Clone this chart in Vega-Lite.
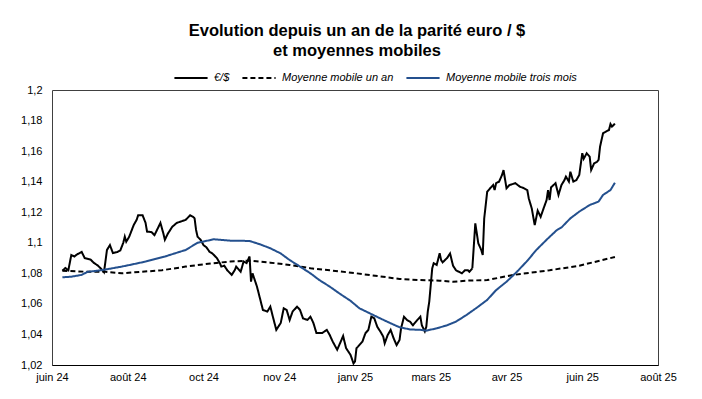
{
  "$schema": "https://vega.github.io/schema/vega-lite/v6.json",
  "width": 606,
  "height": 275,
  "autosize": {"type": "none"},
  "padding": {"left": 52, "top": 90, "right": 44, "bottom": 34},
  "background": "white",
  "config": {"view": {"stroke": "#404040", "strokeWidth": 1}},
  "title": {
    "text": ["Evolution depuis un an de la parité euro / $", "et moyennes mobiles"],
    "font": "Liberation Sans",
    "fontSize": 16.5,
    "fontWeight": "bold",
    "color": "black",
    "anchor": "middle",
    "lineHeight": 20,
    "offset": 1,
    "dx": 2
  },
  "data": {"values": [
    {"date": "2024-07-01", "serie": "€/$", "value": 1.0817},
    {"date": "2024-07-03", "serie": "€/$", "value": 1.0835},
    {"date": "2024-07-05", "serie": "€/$", "value": 1.082},
    {"date": "2024-07-07", "serie": "€/$", "value": 1.092},
    {"date": "2024-07-09", "serie": "€/$", "value": 1.091},
    {"date": "2024-07-11", "serie": "€/$", "value": 1.0925},
    {"date": "2024-07-14", "serie": "€/$", "value": 1.094},
    {"date": "2024-07-16", "serie": "€/$", "value": 1.09},
    {"date": "2024-07-20", "serie": "€/$", "value": 1.089},
    {"date": "2024-07-22", "serie": "€/$", "value": 1.087},
    {"date": "2024-07-25", "serie": "€/$", "value": 1.085},
    {"date": "2024-07-28", "serie": "€/$", "value": 1.082},
    {"date": "2024-07-29", "serie": "€/$", "value": 1.0807},
    {"date": "2024-07-31", "serie": "€/$", "value": 1.0953},
    {"date": "2024-08-02", "serie": "€/$", "value": 1.0985},
    {"date": "2024-08-04", "serie": "€/$", "value": 1.0933},
    {"date": "2024-08-07", "serie": "€/$", "value": 1.094},
    {"date": "2024-08-09", "serie": "€/$", "value": 1.095},
    {"date": "2024-08-11", "serie": "€/$", "value": 1.1},
    {"date": "2024-08-12", "serie": "€/$", "value": 1.104},
    {"date": "2024-08-13", "serie": "€/$", "value": 1.1007},
    {"date": "2024-08-15", "serie": "€/$", "value": 1.104},
    {"date": "2024-08-18", "serie": "€/$", "value": 1.1116},
    {"date": "2024-08-20", "serie": "€/$", "value": 1.115},
    {"date": "2024-08-21", "serie": "€/$", "value": 1.118},
    {"date": "2024-08-24", "serie": "€/$", "value": 1.118},
    {"date": "2024-08-26", "serie": "€/$", "value": 1.113},
    {"date": "2024-08-27", "serie": "€/$", "value": 1.1073},
    {"date": "2024-08-30", "serie": "€/$", "value": 1.107},
    {"date": "2024-09-01", "serie": "€/$", "value": 1.105},
    {"date": "2024-09-05", "serie": "€/$", "value": 1.113},
    {"date": "2024-09-07", "serie": "€/$", "value": 1.106},
    {"date": "2024-09-08", "serie": "€/$", "value": 1.102},
    {"date": "2024-09-10", "serie": "€/$", "value": 1.106},
    {"date": "2024-09-13", "serie": "€/$", "value": 1.1105},
    {"date": "2024-09-16", "serie": "€/$", "value": 1.113},
    {"date": "2024-09-19", "serie": "€/$", "value": 1.114},
    {"date": "2024-09-22", "serie": "€/$", "value": 1.115},
    {"date": "2024-09-25", "serie": "€/$", "value": 1.118},
    {"date": "2024-09-27", "serie": "€/$", "value": 1.117},
    {"date": "2024-09-28", "serie": "€/$", "value": 1.116},
    {"date": "2024-09-29", "serie": "€/$", "value": 1.1084},
    {"date": "2024-09-30", "serie": "€/$", "value": 1.104},
    {"date": "2024-10-02", "serie": "€/$", "value": 1.102},
    {"date": "2024-10-04", "serie": "€/$", "value": 1.0985},
    {"date": "2024-10-06", "serie": "€/$", "value": 1.097},
    {"date": "2024-10-08", "serie": "€/$", "value": 1.0942},
    {"date": "2024-10-10", "serie": "€/$", "value": 1.093},
    {"date": "2024-10-13", "serie": "€/$", "value": 1.09},
    {"date": "2024-10-15", "serie": "€/$", "value": 1.0867},
    {"date": "2024-10-16", "serie": "€/$", "value": 1.0844},
    {"date": "2024-10-18", "serie": "€/$", "value": 1.085},
    {"date": "2024-10-20", "serie": "€/$", "value": 1.082},
    {"date": "2024-10-23", "serie": "€/$", "value": 1.079},
    {"date": "2024-10-25", "serie": "€/$", "value": 1.082},
    {"date": "2024-10-26", "serie": "€/$", "value": 1.0844},
    {"date": "2024-10-29", "serie": "€/$", "value": 1.081},
    {"date": "2024-10-31", "serie": "€/$", "value": 1.0877},
    {"date": "2024-11-02", "serie": "€/$", "value": 1.0867},
    {"date": "2024-11-04", "serie": "€/$", "value": 1.091},
    {"date": "2024-11-05", "serie": "€/$", "value": 1.0746},
    {"date": "2024-11-06", "serie": "€/$", "value": 1.08},
    {"date": "2024-11-09", "serie": "€/$", "value": 1.0713},
    {"date": "2024-11-11", "serie": "€/$", "value": 1.0637},
    {"date": "2024-11-13", "serie": "€/$", "value": 1.056},
    {"date": "2024-11-16", "serie": "€/$", "value": 1.055},
    {"date": "2024-11-18", "serie": "€/$", "value": 1.0582},
    {"date": "2024-11-20", "serie": "€/$", "value": 1.0505},
    {"date": "2024-11-22", "serie": "€/$", "value": 1.043},
    {"date": "2024-11-25", "serie": "€/$", "value": 1.0475},
    {"date": "2024-11-27", "serie": "€/$", "value": 1.0571},
    {"date": "2024-11-29", "serie": "€/$", "value": 1.056},
    {"date": "2024-12-01", "serie": "€/$", "value": 1.0495},
    {"date": "2024-12-03", "serie": "€/$", "value": 1.055},
    {"date": "2024-12-06", "serie": "€/$", "value": 1.0582},
    {"date": "2024-12-08", "serie": "€/$", "value": 1.056},
    {"date": "2024-12-10", "serie": "€/$", "value": 1.0505},
    {"date": "2024-12-13", "serie": "€/$", "value": 1.0495},
    {"date": "2024-12-15", "serie": "€/$", "value": 1.0516},
    {"date": "2024-12-17", "serie": "€/$", "value": 1.0475},
    {"date": "2024-12-19", "serie": "€/$", "value": 1.041},
    {"date": "2024-12-23", "serie": "€/$", "value": 1.041},
    {"date": "2024-12-26", "serie": "€/$", "value": 1.043},
    {"date": "2024-12-28", "serie": "€/$", "value": 1.0396},
    {"date": "2024-12-30", "serie": "€/$", "value": 1.0353},
    {"date": "2025-01-02", "serie": "€/$", "value": 1.03},
    {"date": "2025-01-04", "serie": "€/$", "value": 1.0344},
    {"date": "2025-01-06", "serie": "€/$", "value": 1.039},
    {"date": "2025-01-08", "serie": "€/$", "value": 1.031},
    {"date": "2025-01-11", "serie": "€/$", "value": 1.0266},
    {"date": "2025-01-13", "serie": "€/$", "value": 1.021},
    {"date": "2025-01-14", "serie": "€/$", "value": 1.0223},
    {"date": "2025-01-15", "serie": "€/$", "value": 1.031},
    {"date": "2025-01-16", "serie": "€/$", "value": 1.032},
    {"date": "2025-01-19", "serie": "€/$", "value": 1.0353},
    {"date": "2025-01-21", "serie": "€/$", "value": 1.0408},
    {"date": "2025-01-23", "serie": "€/$", "value": 1.043},
    {"date": "2025-01-25", "serie": "€/$", "value": 1.0516},
    {"date": "2025-01-27", "serie": "€/$", "value": 1.0505},
    {"date": "2025-01-29", "serie": "€/$", "value": 1.045},
    {"date": "2025-01-31", "serie": "€/$", "value": 1.042},
    {"date": "2025-02-02", "serie": "€/$", "value": 1.0386},
    {"date": "2025-02-03", "serie": "€/$", "value": 1.0342},
    {"date": "2025-02-05", "serie": "€/$", "value": 1.0396},
    {"date": "2025-02-07", "serie": "€/$", "value": 1.043},
    {"date": "2025-02-09", "serie": "€/$", "value": 1.0375},
    {"date": "2025-02-11", "serie": "€/$", "value": 1.033},
    {"date": "2025-02-13", "serie": "€/$", "value": 1.0364},
    {"date": "2025-02-14", "serie": "€/$", "value": 1.044},
    {"date": "2025-02-16", "serie": "€/$", "value": 1.0516},
    {"date": "2025-02-18", "serie": "€/$", "value": 1.0495},
    {"date": "2025-02-20", "serie": "€/$", "value": 1.0484},
    {"date": "2025-02-22", "serie": "€/$", "value": 1.046},
    {"date": "2025-02-25", "serie": "€/$", "value": 1.0495},
    {"date": "2025-02-27", "serie": "€/$", "value": 1.0516},
    {"date": "2025-02-28", "serie": "€/$", "value": 1.046},
    {"date": "2025-03-02", "serie": "€/$", "value": 1.042},
    {"date": "2025-03-03", "serie": "€/$", "value": 1.045},
    {"date": "2025-03-04", "serie": "€/$", "value": 1.055},
    {"date": "2025-03-05", "serie": "€/$", "value": 1.0615},
    {"date": "2025-03-07", "serie": "€/$", "value": 1.0833},
    {"date": "2025-03-08", "serie": "€/$", "value": 1.0866},
    {"date": "2025-03-10", "serie": "€/$", "value": 1.0855},
    {"date": "2025-03-12", "serie": "€/$", "value": 1.0931},
    {"date": "2025-03-13", "serie": "€/$", "value": 1.0887},
    {"date": "2025-03-14", "serie": "€/$", "value": 1.0872},
    {"date": "2025-03-17", "serie": "€/$", "value": 1.09},
    {"date": "2025-03-19", "serie": "€/$", "value": 1.093},
    {"date": "2025-03-21", "serie": "€/$", "value": 1.085},
    {"date": "2025-03-23", "serie": "€/$", "value": 1.082},
    {"date": "2025-03-27", "serie": "€/$", "value": 1.08},
    {"date": "2025-03-29", "serie": "€/$", "value": 1.082},
    {"date": "2025-03-31", "serie": "€/$", "value": 1.082},
    {"date": "2025-04-01", "serie": "€/$", "value": 1.081},
    {"date": "2025-04-03", "serie": "€/$", "value": 1.0833},
    {"date": "2025-04-05", "serie": "€/$", "value": 1.1127},
    {"date": "2025-04-07", "serie": "€/$", "value": 1.0997},
    {"date": "2025-04-09", "serie": "€/$", "value": 1.0953},
    {"date": "2025-04-10", "serie": "€/$", "value": 1.092},
    {"date": "2025-04-11", "serie": "€/$", "value": 1.116},
    {"date": "2025-04-13", "serie": "€/$", "value": 1.1334},
    {"date": "2025-04-15", "serie": "€/$", "value": 1.1357},
    {"date": "2025-04-17", "serie": "€/$", "value": 1.1378},
    {"date": "2025-04-18", "serie": "€/$", "value": 1.1345},
    {"date": "2025-04-19", "serie": "€/$", "value": 1.139},
    {"date": "2025-04-21", "serie": "€/$", "value": 1.14},
    {"date": "2025-04-23", "serie": "€/$", "value": 1.1444},
    {"date": "2025-04-24", "serie": "€/$", "value": 1.1476},
    {"date": "2025-04-26", "serie": "€/$", "value": 1.1357},
    {"date": "2025-04-28", "serie": "€/$", "value": 1.1378},
    {"date": "2025-05-02", "serie": "€/$", "value": 1.139},
    {"date": "2025-05-05", "serie": "€/$", "value": 1.1367},
    {"date": "2025-05-07", "serie": "€/$", "value": 1.136},
    {"date": "2025-05-10", "serie": "€/$", "value": 1.1345},
    {"date": "2025-05-11", "serie": "€/$", "value": 1.129},
    {"date": "2025-05-13", "serie": "€/$", "value": 1.1225},
    {"date": "2025-05-15", "serie": "€/$", "value": 1.1116},
    {"date": "2025-05-17", "serie": "€/$", "value": 1.121},
    {"date": "2025-05-19", "serie": "€/$", "value": 1.117},
    {"date": "2025-05-21", "serie": "€/$", "value": 1.1226},
    {"date": "2025-05-23", "serie": "€/$", "value": 1.128},
    {"date": "2025-05-24", "serie": "€/$", "value": 1.1345},
    {"date": "2025-05-25", "serie": "€/$", "value": 1.128},
    {"date": "2025-05-26", "serie": "€/$", "value": 1.1363},
    {"date": "2025-05-29", "serie": "€/$", "value": 1.139},
    {"date": "2025-05-31", "serie": "€/$", "value": 1.1313},
    {"date": "2025-06-02", "serie": "€/$", "value": 1.1378},
    {"date": "2025-06-04", "serie": "€/$", "value": 1.141},
    {"date": "2025-06-05", "serie": "€/$", "value": 1.1433},
    {"date": "2025-06-07", "serie": "€/$", "value": 1.14},
    {"date": "2025-06-08", "serie": "€/$", "value": 1.1465},
    {"date": "2025-06-10", "serie": "€/$", "value": 1.14},
    {"date": "2025-06-12", "serie": "€/$", "value": 1.141},
    {"date": "2025-06-14", "serie": "€/$", "value": 1.1444},
    {"date": "2025-06-16", "serie": "€/$", "value": 1.1586},
    {"date": "2025-06-17", "serie": "€/$", "value": 1.155},
    {"date": "2025-06-19", "serie": "€/$", "value": 1.1586},
    {"date": "2025-06-21", "serie": "€/$", "value": 1.1564},
    {"date": "2025-06-22", "serie": "€/$", "value": 1.1476},
    {"date": "2025-06-24", "serie": "€/$", "value": 1.152},
    {"date": "2025-06-26", "serie": "€/$", "value": 1.153},
    {"date": "2025-06-27", "serie": "€/$", "value": 1.1542},
    {"date": "2025-06-28", "serie": "€/$", "value": 1.163},
    {"date": "2025-06-30", "serie": "€/$", "value": 1.1717},
    {"date": "2025-07-02", "serie": "€/$", "value": 1.1728},
    {"date": "2025-07-04", "serie": "€/$", "value": 1.1738},
    {"date": "2025-07-05", "serie": "€/$", "value": 1.1777},
    {"date": "2025-07-06", "serie": "€/$", "value": 1.176},
    {"date": "2025-07-08", "serie": "€/$", "value": 1.178},

    {"date": "2024-07-01", "serie": "Moyenne mobile un an", "value": 1.0817},
    {"date": "2024-07-18", "serie": "Moyenne mobile un an", "value": 1.081},
    {"date": "2024-07-30", "serie": "Moyenne mobile un an", "value": 1.081},
    {"date": "2024-08-10", "serie": "Moyenne mobile un an", "value": 1.08},
    {"date": "2024-08-23", "serie": "Moyenne mobile un an", "value": 1.081},
    {"date": "2024-09-06", "serie": "Moyenne mobile un an", "value": 1.082},
    {"date": "2024-09-22", "serie": "Moyenne mobile un an", "value": 1.0844},
    {"date": "2024-10-10", "serie": "Moyenne mobile un an", "value": 1.0866},
    {"date": "2024-10-22", "serie": "Moyenne mobile un an", "value": 1.0877},
    {"date": "2024-11-04", "serie": "Moyenne mobile un an", "value": 1.0883},
    {"date": "2024-11-18", "serie": "Moyenne mobile un an", "value": 1.087},
    {"date": "2024-12-01", "serie": "Moyenne mobile un an", "value": 1.0855},
    {"date": "2024-12-15", "serie": "Moyenne mobile un an", "value": 1.0833},
    {"date": "2024-12-28", "serie": "Moyenne mobile un an", "value": 1.082},
    {"date": "2025-01-15", "serie": "Moyenne mobile un an", "value": 1.08},
    {"date": "2025-01-31", "serie": "Moyenne mobile un an", "value": 1.078},
    {"date": "2025-02-13", "serie": "Moyenne mobile un an", "value": 1.0763},
    {"date": "2025-02-27", "serie": "Moyenne mobile un an", "value": 1.0756},
    {"date": "2025-03-12", "serie": "Moyenne mobile un an", "value": 1.0752},
    {"date": "2025-03-21", "serie": "Moyenne mobile un an", "value": 1.0745},
    {"date": "2025-03-30", "serie": "Moyenne mobile un an", "value": 1.0752},
    {"date": "2025-04-13", "serie": "Moyenne mobile un an", "value": 1.0756},
    {"date": "2025-05-01", "serie": "Moyenne mobile un an", "value": 1.079},
    {"date": "2025-05-25", "serie": "Moyenne mobile un an", "value": 1.082},
    {"date": "2025-06-14", "serie": "Moyenne mobile un an", "value": 1.085},
    {"date": "2025-07-08", "serie": "Moyenne mobile un an", "value": 1.0907},

    {"date": "2024-07-01", "serie": "Moyenne mobile trois mois", "value": 1.0774},
    {"date": "2024-07-07", "serie": "Moyenne mobile trois mois", "value": 1.0778},
    {"date": "2024-07-14", "serie": "Moyenne mobile trois mois", "value": 1.079},
    {"date": "2024-07-18", "serie": "Moyenne mobile trois mois", "value": 1.081},
    {"date": "2024-07-27", "serie": "Moyenne mobile trois mois", "value": 1.082},
    {"date": "2024-08-10", "serie": "Moyenne mobile trois mois", "value": 1.0844},
    {"date": "2024-08-26", "serie": "Moyenne mobile trois mois", "value": 1.0877},
    {"date": "2024-09-08", "serie": "Moyenne mobile trois mois", "value": 1.091},
    {"date": "2024-09-22", "serie": "Moyenne mobile trois mois", "value": 1.0953},
    {"date": "2024-09-30", "serie": "Moyenne mobile trois mois", "value": 1.1},
    {"date": "2024-10-11", "serie": "Moyenne mobile trois mois", "value": 1.1023},
    {"date": "2024-10-22", "serie": "Moyenne mobile trois mois", "value": 1.1014},
    {"date": "2024-11-04", "serie": "Moyenne mobile trois mois", "value": 1.1012},
    {"date": "2024-11-11", "serie": "Moyenne mobile trois mois", "value": 1.099},
    {"date": "2024-11-18", "serie": "Moyenne mobile trois mois", "value": 1.0964},
    {"date": "2024-11-25", "serie": "Moyenne mobile trois mois", "value": 1.093},
    {"date": "2024-12-01", "serie": "Moyenne mobile trois mois", "value": 1.0887},
    {"date": "2024-12-08", "serie": "Moyenne mobile trois mois", "value": 1.0844},
    {"date": "2024-12-15", "serie": "Moyenne mobile trois mois", "value": 1.08},
    {"date": "2024-12-21", "serie": "Moyenne mobile trois mois", "value": 1.0756},
    {"date": "2024-12-28", "serie": "Moyenne mobile trois mois", "value": 1.0713},
    {"date": "2025-01-04", "serie": "Moyenne mobile trois mois", "value": 1.0665},
    {"date": "2025-01-11", "serie": "Moyenne mobile trois mois", "value": 1.062},
    {"date": "2025-01-17", "serie": "Moyenne mobile trois mois", "value": 1.0571},
    {"date": "2025-01-24", "serie": "Moyenne mobile trois mois", "value": 1.0538},
    {"date": "2025-01-31", "serie": "Moyenne mobile trois mois", "value": 1.0505},
    {"date": "2025-02-07", "serie": "Moyenne mobile trois mois", "value": 1.0473},
    {"date": "2025-02-13", "serie": "Moyenne mobile trois mois", "value": 1.0447},
    {"date": "2025-02-20", "serie": "Moyenne mobile trois mois", "value": 1.0433},
    {"date": "2025-02-27", "serie": "Moyenne mobile trois mois", "value": 1.043},
    {"date": "2025-03-03", "serie": "Moyenne mobile trois mois", "value": 1.0425},
    {"date": "2025-03-10", "serie": "Moyenne mobile trois mois", "value": 1.044},
    {"date": "2025-03-17", "serie": "Moyenne mobile trois mois", "value": 1.046},
    {"date": "2025-03-23", "serie": "Moyenne mobile trois mois", "value": 1.0484},
    {"date": "2025-03-30", "serie": "Moyenne mobile trois mois", "value": 1.0527},
    {"date": "2025-04-06", "serie": "Moyenne mobile trois mois", "value": 1.0575},
    {"date": "2025-04-13", "serie": "Moyenne mobile trois mois", "value": 1.0626},
    {"date": "2025-04-19", "serie": "Moyenne mobile trois mois", "value": 1.069},
    {"date": "2025-04-26", "serie": "Moyenne mobile trois mois", "value": 1.0745},
    {"date": "2025-05-03", "serie": "Moyenne mobile trois mois", "value": 1.081},
    {"date": "2025-05-10", "serie": "Moyenne mobile trois mois", "value": 1.0882},
    {"date": "2025-05-16", "serie": "Moyenne mobile trois mois", "value": 1.0952},
    {"date": "2025-05-23", "serie": "Moyenne mobile trois mois", "value": 1.102},
    {"date": "2025-05-30", "serie": "Moyenne mobile trois mois", "value": 1.1084},
    {"date": "2025-06-02", "serie": "Moyenne mobile trois mois", "value": 1.11},
    {"date": "2025-06-08", "serie": "Moyenne mobile trois mois", "value": 1.116},
    {"date": "2025-06-14", "serie": "Moyenne mobile trois mois", "value": 1.1204},
    {"date": "2025-06-21", "serie": "Moyenne mobile trois mois", "value": 1.1247},
    {"date": "2025-06-27", "serie": "Moyenne mobile trois mois", "value": 1.127},
    {"date": "2025-06-30", "serie": "Moyenne mobile trois mois", "value": 1.1313},
    {"date": "2025-07-05", "serie": "Moyenne mobile trois mois", "value": 1.1345},
    {"date": "2025-07-08", "serie": "Moyenne mobile trois mois", "value": 1.1393}
  ]},
  "mark": {"type": "line", "strokeWidth": 2},
  "encoding": {
    "x": {
      "field": "date",
      "type": "temporal",
      "scale": {
        "type": "utc",
        "domain": [
          {"year": 2024, "month": 6, "date": 24, "utc": true},
          {"year": 2025, "month": 8, "date": 6, "utc": true}
        ]
      },
      "axis": {
        "title": null,
        "grid": false,
        "ticks": false,
        "domain": true,
        "domainColor": "black",
        "domainWidth": 1,
        "labelFlush": false,
        "labelOverlap": false,
        "labelBound": false,
        "labelPadding": 6,
        "labelFont": "Liberation Sans",
        "labelFontSize": 11,
        "labelColor": "black",
        "values": [
          {"year": 2024, "month": 6, "date": 24, "utc": true},
          {"year": 2024, "month": 8, "date": 14, "utc": true},
          {"year": 2024, "month": 10, "date": 4, "utc": true},
          {"year": 2024, "month": 11, "date": 24, "utc": true},
          {"year": 2025, "month": 1, "date": 14, "utc": true},
          {"year": 2025, "month": 3, "date": 6, "utc": true},
          {"year": 2025, "month": 4, "date": 26, "utc": true},
          {"year": 2025, "month": 6, "date": 16, "utc": true},
          {"year": 2025, "month": 8, "date": 6, "utc": true}
        ],
        "labelExpr": "['janv','févr','mars','avr','mai','juin','juil','août','sept','oct','nov','déc'][utcmonth(datum.value)] + ' ' + utcFormat(datum.value, '%y')"
      }
    },
    "y": {
      "field": "value",
      "type": "quantitative",
      "scale": {"domain": [1.02, 1.2], "nice": false, "zero": false},
      "axis": {
        "title": null,
        "grid": false,
        "ticks": false,
        "domain": false,
        "labelPadding": 10,
        "labelFont": "Liberation Sans",
        "labelFontSize": 11,
        "labelColor": "black",
        "labelOverlap": false,
        "values": [1.02, 1.04, 1.06, 1.08, 1.1, 1.12, 1.14, 1.16, 1.18, 1.2],
        "labelExpr": "replace(format(datum.value, '.2~f'), '.', ',')"
      }
    },
    "color": {
      "field": "serie",
      "type": "nominal",
      "scale": {
        "domain": ["€/$", "Moyenne mobile un an", "Moyenne mobile trois mois"],
        "range": ["#000000", "#000000", "#24508E"]
      },
      "legend": {
        "title": null,
        "orient": "none",
        "legendX": 121,
        "legendY": -30,
        "direction": "horizontal",
        "symbolType": "stroke",
        "symbolSize": 1100,
        "symbolStrokeWidth": 2,
        "labelFont": "Liberation Sans",
        "labelFontStyle": "italic",
        "labelFontSize": 11,
        "labelColor": "black",
        "labelOffset": 5,
        "columnPadding": 8
      }
    },
    "strokeDash": {
      "field": "serie",
      "type": "nominal",
      "scale": {
        "domain": ["€/$", "Moyenne mobile un an", "Moyenne mobile trois mois"],
        "range": [[1, 0], [5, 3], [1, 0]]
      },
      "legend": {
        "title": null,
        "orient": "none",
        "legendX": 121,
        "legendY": -30,
        "direction": "horizontal",
        "symbolType": "stroke",
        "symbolSize": 1100,
        "symbolStrokeWidth": 2,
        "labelFont": "Liberation Sans",
        "labelFontStyle": "italic",
        "labelFontSize": 11,
        "labelColor": "black",
        "labelOffset": 5,
        "columnPadding": 8
      }
    }
  }
}
